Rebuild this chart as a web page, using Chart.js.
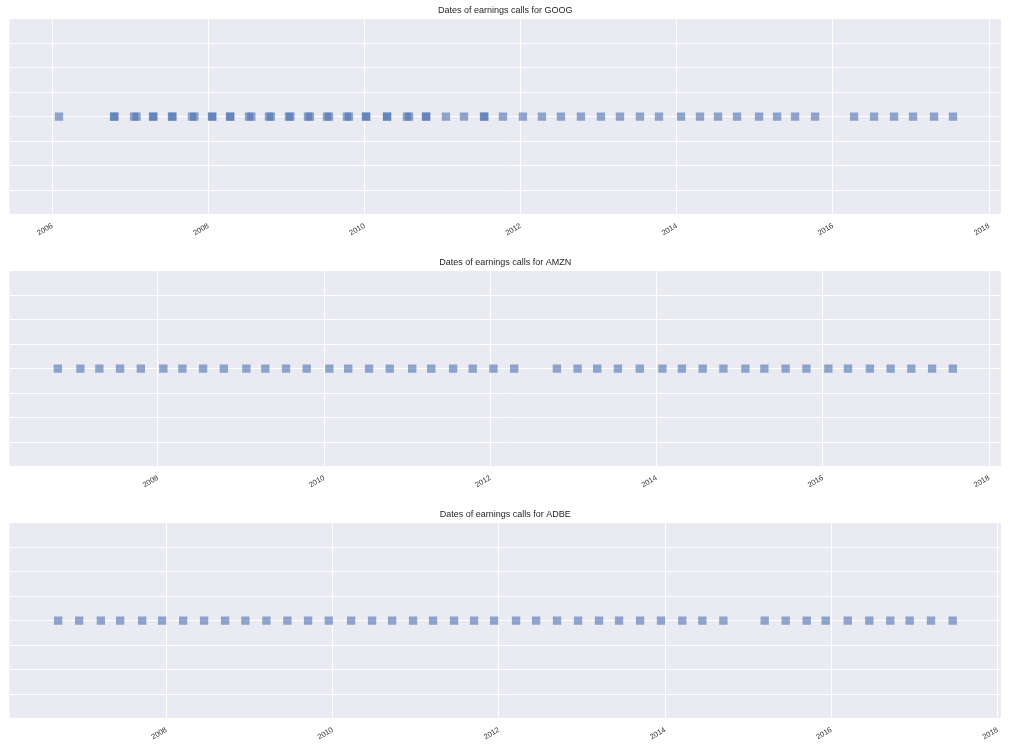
<!DOCTYPE html>
<html>
<head>
<meta charset="utf-8">
<script src="https://cdn.jsdelivr.net/npm/chart.js@4"></script>
<style>
  html, body { margin: 0; padding: 0; background: #fff; overflow: hidden; }
  .panel { position: absolute; left: 0; width: 1014px; height: 244px; }
</style>
</head>
<body>
<div class="panel" style="top:0px"><canvas id="googChart"></canvas></div>
<div class="panel" style="top:252px"><canvas id="amznChart"></canvas></div>
<div class="panel" style="top:504px"><canvas id="adbeChart"></canvas></div>
<script>
// earnings call dates, as decimal years
// GOOG has a few dates listed twice (darker squares)
const googDates = [
  2006.086,
  2006.791, 2006.796, 2007.048, 2007.080, 2007.290, 2007.295, 2007.534, 2007.540,
  2007.790, 2007.820, 2008.046, 2008.050, 2008.277, 2008.280, 2008.520, 2008.550,
  2008.776, 2008.800, 2009.032, 2009.050, 2009.276, 2009.300, 2009.519, 2009.545,
  2009.775, 2009.800, 2010.018, 2010.022, 2010.287, 2010.290, 2010.543, 2010.570,
  2010.787, 2010.790, 2011.043, 2011.274, 2011.530, 2011.535, 2011.773,
  2012.029, 2012.272, 2012.516, 2012.772, 2013.028, 2013.272, 2013.528, 2013.772,
  2014.054, 2014.297, 2014.528, 2014.772, 2015.054, 2015.285, 2015.515, 2015.771,
  2016.271, 2016.527, 2016.783, 2017.026, 2017.295, 2017.538
];
const amznDates = [
  2006.797, 2007.068, 2007.296, 2007.545, 2007.795, 2008.066, 2008.295, 2008.544,
  2008.794, 2009.065, 2009.293, 2009.542, 2009.791, 2010.063, 2010.290, 2010.541,
  2010.790, 2011.060, 2011.289, 2011.552, 2011.788, 2012.037, 2012.287,
  2012.801, 2013.050, 2013.286, 2013.535, 2013.798, 2014.070, 2014.305, 2014.555,
  2014.804, 2015.069, 2015.297, 2015.553, 2015.803, 2016.067, 2016.303, 2016.567,
  2016.816, 2017.065, 2017.315, 2017.565
];
const adbeDates = [
  2006.697, 2006.950, 2007.211, 2007.443, 2007.708, 2007.948, 2008.201, 2008.453,
  2008.706, 2008.950, 2009.203, 2009.455, 2009.704, 2009.953, 2010.222, 2010.474,
  2010.715, 2010.967, 2011.208, 2011.460, 2011.701, 2011.942, 2012.206, 2012.447,
  2012.699, 2012.952, 2013.204, 2013.445, 2013.698, 2013.950, 2014.206, 2014.447,
  2014.700,
  2015.197, 2015.450, 2015.703, 2015.931, 2016.196, 2016.456, 2016.708, 2016.941,
  2017.198, 2017.459
];

const googTicks = [2006, 2008, 2010, 2012, 2014, 2016, 2018];
const amznTicks = [2008, 2010, 2012, 2014, 2016, 2018];
const adbeTicks = [2008, 2010, 2012, 2014, 2016, 2018];

// paint the seaborn style grey plot background
const plotBg = {
  id: 'plotBg',
  beforeDraw(chart) {
    const {ctx, chartArea: a} = chart;
    ctx.save();
    ctx.fillStyle = '#eaeaf2';
    ctx.fillRect(a.left, a.top, a.width, a.height);
    ctx.restore();
  }
};

function makeChart(id, ticker, dates, xMin, xMax, years) {
  const config = {
    type: 'scatter',
    data: {
      datasets: [{
        label: ticker,
        data: dates.map(d => ({x: d, y: 0})),
        pointStyle: 'rect',
        pointRadius: 5.9,
        pointHoverRadius: 5.9,
        backgroundColor: 'rgba(76,114,176,0.6)',
        borderWidth: 0
      }]
    },
    options: {
      responsive: true,
      maintainAspectRatio: false,
      animation: false,
      layout: { padding: { left: 9.5, right: 13, top: 0, bottom: 0 } },
      plugins: {
        legend: { display: false },
        tooltip: { enabled: false },
        title: {
          display: true,
          text: 'Dates of earnings calls for ' + ticker,
          color: '#262626',
          font: { family: 'Liberation Sans', size: 9, weight: 'normal' },
          padding: { top: 5.2, bottom: 2.8 }
        }
      },
      scales: {
        x: {
          type: 'linear',
          min: xMin,
          max: xMax,
          afterBuildTicks: s => { s.ticks = years.map(v => ({value: v})); },
          afterFit: s => { s.height = 29.5; },
          grid: { color: '#ffffff', lineWidth: 1, drawTicks: false },
          border: { display: false },
          ticks: {
            minRotation: 30,
            maxRotation: 30,
            padding: 7,
            color: '#333333',
            font: { family: 'Liberation Sans', size: 7.5 },
            callback: v => String(v)
          }
        },
        y: {
          min: -0.04,
          max: 0.04,
          afterFit: s => { s.width = 0; },
          grid: { color: '#ffffff', lineWidth: 1, drawTicks: false },
          border: { display: false },
          ticks: { display: false, stepSize: 0.01 }
        }
      }
    },
    plugins: [plotBg]
  };
  return new Chart(document.getElementById(id), config);
}

makeChart('googChart', 'GOOG', googDates, 2005.452, 2018.153, googTicks);
makeChart('amznChart', 'AMZN', amznDates, 2006.215, 2018.144, amznTicks);
makeChart('adbeChart', 'ADBE', adbeDates, 2006.112, 2018.04, adbeTicks);
</script>
</body>
</html>
